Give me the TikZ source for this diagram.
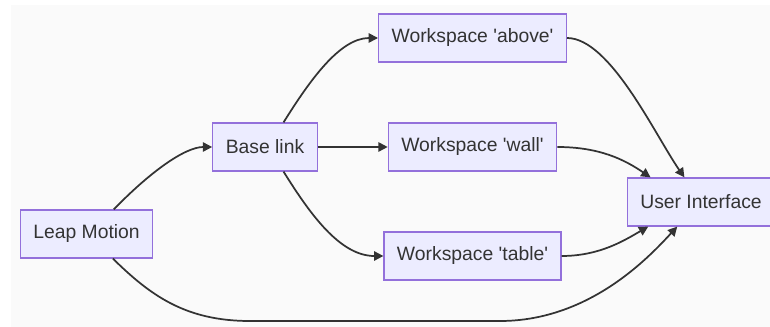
\documentclass[tikz,border=0pt]{standalone}
\usepackage{fontspec}
\setmainfont{Liberation Sans}
\usetikzlibrary{arrows.meta}
\definecolor{boxfill}{HTML}{ECECFF}
\definecolor{boxline}{HTML}{9370DB}
\definecolor{ink}{HTML}{333333}
\definecolor{paper}{HTML}{FAFAFA}

\begin{document}
\begin{tikzpicture}[x=0.75pt,y=0.75pt,
   box/.style={draw=boxline,fill=boxfill,line width=0.9pt,text=ink,
     minimum height=36pt,inner xsep=9.75pt,font=\fontsize{14.5}{17}\selectfont},
   link/.style={draw=ink,line width=1.3pt,-{Triangle[length=7pt,width=7pt]}}]
   \useasboundingbox (0,0) rectangle (770,-327);
   \fill[paper] (11,-5) rectangle (770,-327);
   % nodes
   \node[box] (leap)  at (86.5,-234) {Leap Motion};
   \node[box] (base)  at (265,-147)  {Base link};
   \node[box] (above) at (472.5,-38) {Workspace \textquotesingle above\textquotesingle};
   \node[box] (wall)  at (472.5,-147) {Workspace \textquotesingle wall\textquotesingle};
   \node[box] (table) at (472.5,-256) {Workspace \textquotesingle table\textquotesingle};
   \node[box] (ui)    at (701,-202)  {User Interface};
   % links
   \draw[link] (leap.42) .. controls (150,-172) and (185,-147) .. (base.west);
   \draw[link] (base.53) .. controls (310,-80) and (340,-38) .. (above.west);
   \draw[link] (base.east) -- (wall.west);
   \draw[link] (base.-53) .. controls (310,-214) and (340,-256) .. (table.west);
   \draw[link] (above.east) .. controls (610,-38) and (655,-135) .. (ui.124);
   \draw[link] (wall.east) .. controls (600,-147) and (625,-160) .. (ui.154);
   \draw[link] (table.east) .. controls (600,-256) and (625,-240) .. (ui.205);
   \draw[link] (leap.-43) .. controls (150,-295) and (185,-321) .. (250,-321)
      -- (500,-321) .. controls (590,-321) and (650,-256) .. (ui.226);
\end{tikzpicture}
\end{document}
